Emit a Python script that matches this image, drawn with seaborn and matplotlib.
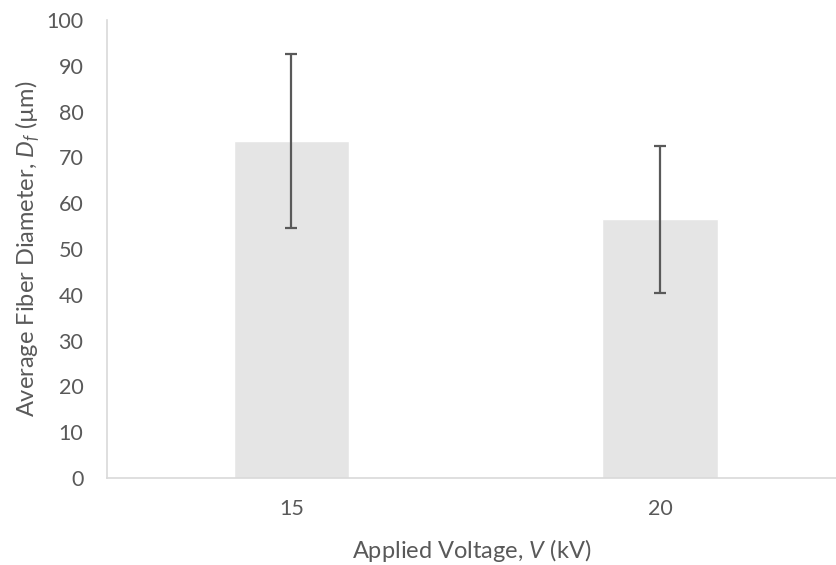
import numpy as np
import pandas as pd
import seaborn as sns
import matplotlib.pyplot as plt

voltages = ["15", "20"]
diameters = [73.6, 56.5]
errors = [19.0, 16.0]

sns.set_theme(style="white")
plt.rcParams['font.family'] = ['Lato', 'DejaVu Sans']
plt.rcParams['mathtext.fontset'] = 'custom'
plt.rcParams['mathtext.it'] = 'Lato:italic'
plt.rcParams['mathtext.rm'] = 'Lato'

text_col = '#595959'
df = pd.DataFrame({"voltage": voltages, "diameter": diameters})

fig = plt.figure(figsize=(8.36, 5.65), dpi=100)
ax = fig.add_axes([0.128, 0.154, 0.872, 0.8106])

sns.barplot(data=df, x="voltage", y="diameter", color="#e5e5e5",
            width=0.314, saturation=1, errorbar=None, ax=ax)
ax.errorbar(np.arange(len(voltages)), diameters, yerr=errors, fmt='none',
            ecolor=text_col, elinewidth=1.6, capsize=4.3, capthick=1.6)

ax.set_ylim(0, 100)
ax.set_yticks(np.arange(0, 101, 10))
ax.set_xlim(-0.5, 1.476)
ax.tick_params(axis='both', length=0, labelsize=15.5, colors=text_col)
ax.tick_params(axis='x', pad=15)
ax.tick_params(axis='y', pad=17)

ax.set_xlabel("Applied Voltage, $V$ (kV)", fontsize=17, color=text_col, labelpad=13)
ax.set_ylabel("Average Fiber Diameter, $D_f$ (µm)", fontsize=17, color=text_col, labelpad=3)

for side in ['top', 'right']:
    ax.spines[side].set_visible(False)
for side in ['left', 'bottom']:
    ax.spines[side].set_color('#d9d9d9')
    ax.spines[side].set_linewidth(1.2)

fig.savefig("out.png", dpi=100)
